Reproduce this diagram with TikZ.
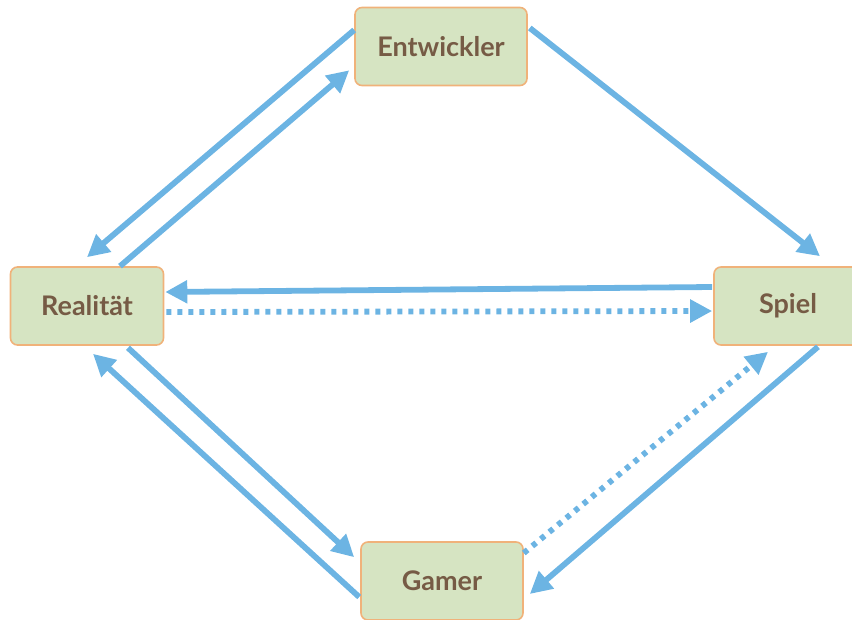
\documentclass[tikz,border=0pt]{standalone}
\usepackage{fontspec}
\setmainfont{Lato}
\usetikzlibrary{arrows.meta}
\definecolor{boxfill}{HTML}{D6E4C2}
\definecolor{boxline}{HTML}{F0B27A}
\definecolor{boxtext}{HTML}{765B45}
\definecolor{flow}{HTML}{6CB4E3}
\tikzset{
  actor/.style={rectangle, rounded corners=7pt, draw=boxline, line width=1.6pt,
    fill=boxfill, text=boxtext, inner sep=0pt, minimum height=78pt,
    font=\fontsize{27}{32}\selectfont\bfseries},
  link/.style={draw=flow, line width=5.8pt, -{Triangle[length=22pt,width=22pt]}},
  dotlink/.style={link, dash pattern=on 5pt off 6pt},
}
\begin{document}
\begin{tikzpicture}[x=1pt,y=-1pt]
\useasboundingbox (0,0) rectangle (852,619);
\clip (0,0) rectangle (852,619);

% the four actors
\node[actor, minimum width=172pt] (ent)   at (441,46.5) {Entwickler};
\node[actor, minimum width=153pt] (real)  at (87,306)   {Realität};
\node[actor, minimum width=148pt] (spiel) at (788,306)  {Spiel};
\node[actor, minimum width=162pt] (gam)   at (442,581)  {Gamer};

% developer <-> reality, developer -> game
\draw[link] ([yshift=16.5pt]ent.west) -- ([yshift=9pt]real.north);
\draw[link] ([xshift=33pt]real.north) -- ([xshift=-5pt,yshift=16pt]ent.south west);
\draw[link] ([xshift=2pt,yshift=18.5pt]ent.east) -- ([xshift=32pt,yshift=10pt]spiel.north);

% game <-> reality
\draw[link] ([xshift=-1pt,yshift=19pt]spiel.west) -- ([xshift=1pt,yshift=14pt]real.east);
\draw[dotlink] ([xshift=2pt,yshift=-6pt]real.east) -- ([xshift=-1pt,yshift=-5pt]spiel.west);

% game <-> gamer
\draw[link] ([xshift=30pt,yshift=-1pt]spiel.south) -- ([xshift=6pt,yshift=-13pt]gam.east);
\draw[dotlink] ([yshift=28pt]gam.east) -- ([xshift=-20pt,yshift=-6pt]spiel.south);

% reality <-> gamer
\draw[link] ([xshift=41pt,yshift=-2pt]real.south) -- ([xshift=-6pt,yshift=-16pt]gam.north west);
\draw[link] ([xshift=-1pt,yshift=-16pt]gam.west) -- ([xshift=6pt,yshift=-8pt]real.south);
\end{tikzpicture}
\end{document}
